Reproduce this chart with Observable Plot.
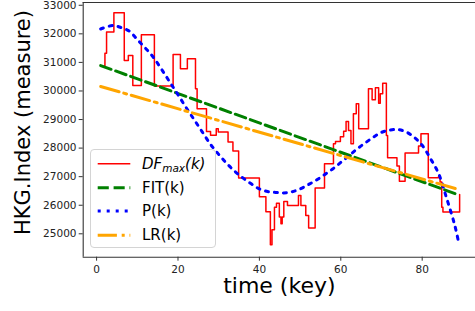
<!DOCTYPE html>
<html><head><meta charset="utf-8">
<script src="https://cdn.jsdelivr.net/npm/d3@7"></script>
<script src="https://cdn.jsdelivr.net/npm/@observablehq/plot@0.6"></script>
<style>
html,body{margin:0;padding:0;background:#fff;}
#wrap{position:relative;width:475px;height:311px;overflow:hidden;font-family:"DejaVu Sans",sans-serif;}
#legend{position:absolute;left:90px;top:149px;width:126px;height:99px;box-sizing:border-box;border:1px solid #d4d4d4;border-radius:4px;background:rgba(255,255,255,0.8);}
#legend svg{position:absolute;left:-1px;top:-1px;}
.lab{position:absolute;left:51px;font-size:15px;line-height:20px;height:20px;color:#000;white-space:nowrap;}
.lab sub{font-size:10.5px;vertical-align:-3px;line-height:0;}
</style></head>
<body><div id="wrap"></div>
<script>
// red step line DF_max(k)
const dfKeys = [2.0, 2.05, 2.45, 4.25, 6.8, 7.8, 8.9, 11, 14.2, 18.8, 20.6, 22.3, 24.3, 24.7, 27, 28, 29.4, 29.9, 32.3, 33.5, 34.9, 40, 41.6, 42.7, 43.1, 43.7, 44.2, 44.9, 45.3, 45.6, 46, 46.9, 49.6, 50.2, 51.4, 52.1, 53.7, 56, 58.2, 58.7, 59.9, 60.7, 61.3, 61.9, 62.5, 63.1, 63.8, 64.4, 66.8, 67.7, 68.5, 69.3, 69.7, 70.3, 71.2, 71.5, 73.8, 74.4, 75.8, 79.1, 79.7, 81.5, 84, 84.4, 84.8, 85.1, 89.2];
const dfValues = [30890, 31320, 32060, 32735, 31065, 31240, 30190, 31965, 30170, 31275, 30775, 31125, 30080, 29375, 28580, 28450, 28675, 28560, 28210, 27900, 26950, 26300, 25770, 24620, 25140, 25930, 26070, 25590, 25350, 25590, 26130, 25990, 26340, 25990, 25640, 25200, 26600, 27450, 28150, 28230, 28400, 28590, 28930, 28620, 28150, 29200, 29550, 28675, 30075, 29690, 30110, 29570, 29900, 30270, 28440, 27660, 27370, 26840, 27830, 28070, 28500, 26960, 27000, 26810, 25930, 25760, 26380];
// green dashed FIT(k)
const fitKeys = [1, 89];
const fitValues = [30890, 26360];
// blue dotted P(k)
const pKeys = [1, 4, 6, 8, 10, 12, 14, 16, 18, 20, 22, 24, 26, 28, 30, 32, 34, 36, 38, 40, 42, 44, 46, 48, 50, 52, 54, 56, 58, 60, 62, 64, 66, 68, 70, 72, 74, 76, 78, 80, 82, 84, 86, 88, 89];
const pValues = [32170, 32290, 32220, 32100, 31800, 31500, 31170, 30750, 30310, 29870, 29420, 28990, 28560, 28130, 27780, 27460, 27180, 26950, 26750, 26570, 26480, 26450, 26430, 26470, 26570, 26720, 26880, 27070, 27270, 27500, 27730, 27970, 28180, 28380, 28550, 28630, 28650, 28570, 28380, 28100, 27640, 27120, 26250, 25300, 24670];
// orange dash-dot LR(k)
const lrKeys = [1, 89];
const lrValues = [30157, 26551];

const xTicks = [0, 20, 40, 60, 80];
const yTicks = [25000, 26000, 27000, 28000, 29000, 30000, 31000, 32000, 33000];
const xLabel = "time (key)";
const yLabel = "HKG.Index (measure)";
const legendLabels = ["DF_max(k)", "FIT(k)", "P(k)", "LR(k)"];

const xDomain = [-3.29, 93.1];
const yDomain = [24181, 33097];

const toRows = (ks, vs) => ks.map((k, i) => ({k, v: vs[i]}));
const dfData = toRows(dfKeys, dfValues);
const fitData = toRows(fitKeys, fitValues);
const pData = toRows(pKeys, pValues);
const lrData = toRows(lrKeys, lrValues);

const styles = [
  {stroke: "#ff0000", strokeWidth: 1.5, dash: null},
  {stroke: "#008000", strokeWidth: 3, dash: "11.1,4.8"},
  {stroke: "#0000ff", strokeWidth: 3, dash: "3,6"},
  {stroke: "#ffa500", strokeWidth: 3, dash: "19.2,4.8,3,4.8"}
];

const chart = Plot.plot({
  width: 475, height: 311,
  marginLeft: 82.7, marginRight: 0, marginTop: 2, marginBottom: 54.3,
  x: {domain: xDomain},
  y: {domain: yDomain},
  style: {fontFamily: "DejaVu Sans", fontSize: "10.5px", color: "#222", background: "white", overflow: "visible"},
  marks: [
    Plot.line(dfData, {x: "k", y: "v", curve: "step-after", stroke: styles[0].stroke, strokeWidth: styles[0].strokeWidth}),
    Plot.line(fitData, {x: "k", y: "v", stroke: styles[1].stroke, strokeWidth: styles[1].strokeWidth, strokeDasharray: styles[1].dash}),
    Plot.line(pData, {x: "k", y: "v", curve: "catmull-rom", stroke: styles[2].stroke, strokeWidth: styles[2].strokeWidth, strokeDasharray: styles[2].dash}),
    Plot.line(lrData, {x: "k", y: "v", stroke: styles[3].stroke, strokeWidth: styles[3].strokeWidth, strokeDasharray: styles[3].dash}),
    Plot.axisX({ticks: xTicks, tickSize: 4, tickPadding: 4.3, label: null, tickFormat: d3.format("d"), stroke: "#333"}),
    Plot.axisY({ticks: yTicks, tickSize: 4, tickPadding: 2.7, label: null, tickFormat: d3.format("d"), stroke: "#333"}),
    Plot.ruleX([xDomain[0]], {stroke: "#333", strokeWidth: 1.1}),
    Plot.ruleY([yDomain[0], yDomain[1]], {stroke: "#333", strokeWidth: 1.1}),
    Plot.text([xLabel], {text: d => d, frameAnchor: "bottom", dy: 35.5, fontSize: 22, fill: "#000"})
  ]
});
// rotated y-axis title
d3.select(chart).append("text")
  .attr("transform", "translate(30,122.5) rotate(-90)")
  .attr("text-anchor", "middle")
  .attr("font-family", "DejaVu Sans")
  .attr("font-size", 21)
  .attr("fill", "#000")
  .text(yLabel);

const wrap = document.getElementById("wrap");
wrap.appendChild(chart);

// legend
const leg = document.createElement("div");
leg.id = "legend";
const rowY = [13.7, 37.7, 61, 85.3];
let svg = `<svg width="126" height="99" xmlns="http://www.w3.org/2000/svg">`;
styles.forEach((s, i) => {
  svg += `<line x1="7.7" x2="40.3" y1="${rowY[i] + 1}" y2="${rowY[i] + 1}" stroke="${s.stroke}" stroke-width="${s.strokeWidth}"${s.dash ? ` stroke-dasharray="${s.dash}"` : ""}/>`;
});
svg += `</svg>`;
leg.innerHTML = svg;
legendLabels.forEach((lab, i) => {
  const d = document.createElement("div");
  d.className = "lab";
  d.style.top = (rowY[i] - 10) + "px";
  if (lab.includes("_")) {
    const m = lab.match(/^(.*)_([a-z]+)(.*)$/);
    d.innerHTML = `<i>${m[1]}<sub>${m[2]}</sub>${m[3]}</i>`;
  } else {
    d.textContent = lab;
  }
  leg.appendChild(d);
});
wrap.appendChild(leg);
</script>
</body></html>
